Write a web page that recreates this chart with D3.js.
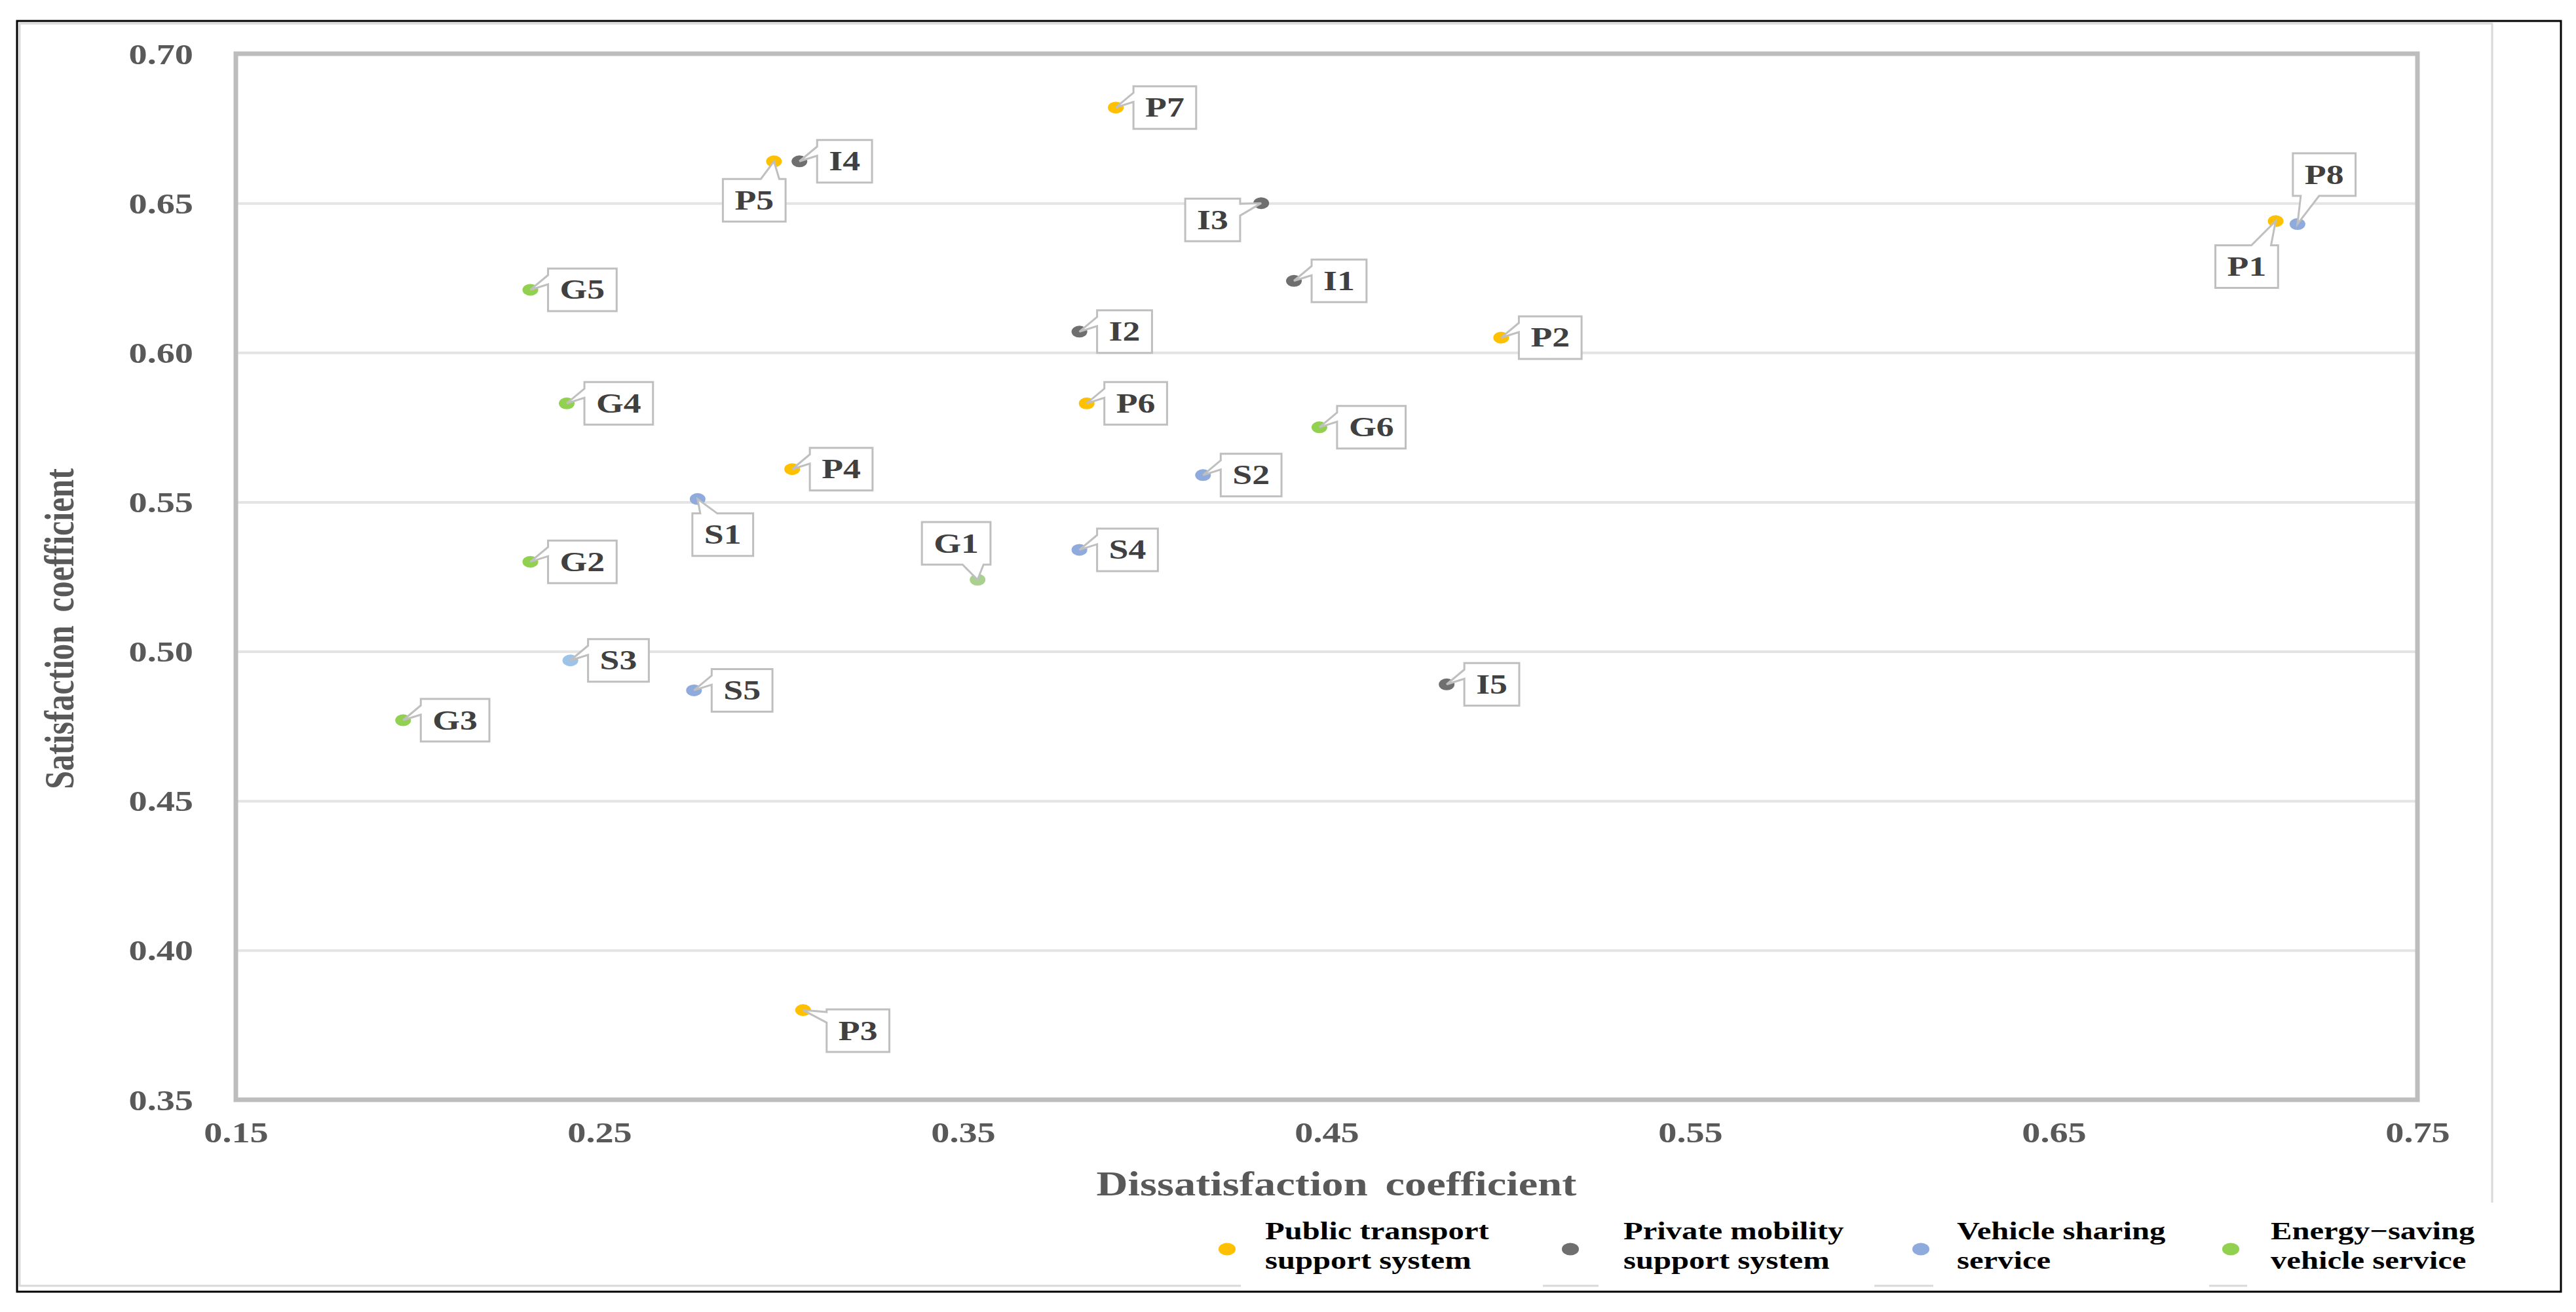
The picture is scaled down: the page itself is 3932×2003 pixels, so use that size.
<!DOCTYPE html>
<html>
<head>
<meta charset="utf-8">
<script src="https://cdn.jsdelivr.net/npm/d3@7"></script>
<style>
  body { margin: 0; background: #fff; }
  text { font-family: "Liberation Serif", "Times New Roman", serif; font-weight: bold; }
</style>
</head>
<body>
<div id="chart"></div>
<script>
// data
var categories = ["Public transport support system", "Private mobility support system",
                  "Vehicle sharing service", "Energy\u2212saving vehicle service"];
var legendLines = [["Public transport", "support system"], ["Private mobility", "support system"],
                   ["Vehicle sharing", "service"], ["Energy\u2212saving", "vehicle service"]];

var pointLabels = ["P1", "P2", "P3", "P4", "P5", "P6", "P7", "P8",
                   "I1", "I2", "I3", "I4", "I5",
                   "S1", "S2", "S3", "S4", "S5",
                   "G1", "G2", "G3", "G4", "G5", "G6"];
var dissatisfaction = [0.711, 0.498, 0.306, 0.303, 0.298, 0.384, 0.392, 0.717,
                       0.441, 0.382, 0.432, 0.305, 0.483,
                       0.277, 0.416, 0.242, 0.382, 0.276,
                       0.354, 0.231, 0.196, 0.241, 0.231, 0.448];
var satisfaction = [0.644, 0.605, 0.380, 0.561, 0.664, 0.583, 0.682, 0.643,
                    0.624, 0.607, 0.650, 0.664, 0.489,
                    0.551, 0.559, 0.497, 0.534, 0.487,
                    0.524, 0.530, 0.477, 0.583, 0.621, 0.575];
var pointGroup = [0, 0, 0, 0, 0, 0, 0, 2,
                  1, 1, 1, 1, 1,
                  2, 2, 2, 2, 2,
                  3, 3, 3, 3, 3, 3];

var xTicks = [0.15, 0.25, 0.35, 0.45, 0.55, 0.65, 0.75];
var yTicks = [0.35, 0.40, 0.45, 0.50, 0.55, 0.60, 0.65, 0.70];

// styles
var color = d3.scaleOrdinal().domain(d3.range(4))
    .range(["#ffc000", "#6f6f6f", "#8faadc", "#92d050"]);
var colorOverride = { S3: "#9dc3e6", G1: "#a9d18e" };
var sx = 1.28; // the source figure is stretched sideways

// where the callouts sit (box offset from point, edge that carries the wedge)
var labelLayout = {
  P5: { ox: -78, oy: 27, edge: "top", b1: 58, b2: 86 },
  P1: { ox: -92, oy: 37, edge: "top", b1: 55, b2: 85 },
  I3: { ox: -116, oy: -7, edge: "right", b1: 8, b2: 26 },
  P8: { ox: -7, oy: -108, edge: "bottom", b1: 12, b2: 40 },
  S1: { ox: -8, oy: 22, edge: "top", b1: 12, b2: 38 },
  G1: { ox: -85, oy: -88, edge: "bottom", b1: 62, b2: 94 },
  P3: { ox: 36, oy: -1, edge: "left", b1: 4, b2: 20 }
};

var W = 3932, H = 2003;
var margin = { top: 82, right: W - 3690, bottom: H - 1679, left: 360 },
    width = W - margin.left - margin.right,
    height = H - margin.top - margin.bottom;

var svg = d3.select("#chart").append("svg")
    .attr("width", W).attr("height", H);

// outer frame and chart area border
svg.append("rect").attr("x", 30).attr("y", 36).attr("width", 3804 - 30).attr("height", 1963 - 36)
    .attr("fill", "none").attr("stroke", "#d9d9d9").attr("stroke-width", 3);
svg.append("rect").attr("x", 26).attr("y", 32).attr("width", 3909 - 26).attr("height", 1972 - 32)
    .attr("fill", "none").attr("stroke", "#000").attr("stroke-width", 3);

var g = svg.append("g").attr("transform", "translate(" + margin.left + "," + margin.top + ")");

var x = d3.scaleLinear().domain([0.15, 0.75]).range([0, width]);
var y = d3.scaleLinear().domain([0.35, 0.70]).range([height, 0]);

// grid
g.append("g")
    .call(d3.axisLeft(y).tickValues(yTicks.slice(1, -1)).tickSize(-width).tickFormat(""))
    .call(function(a) { a.select(".domain").remove(); })
    .selectAll("line").attr("stroke", "#e4e4e4").attr("stroke-width", 4);

g.append("rect").attr("width", width).attr("height", height)
    .attr("fill", "none").attr("stroke", "#bdbdbd").attr("stroke-width", 7);

// axes
var xAxis = g.append("g").attr("transform", "translate(0," + height + ")")
    .call(d3.axisBottom(x).tickValues(xTicks).tickSize(0).tickFormat(d3.format(".2f")));
xAxis.select(".domain").remove();
xAxis.selectAll("text")
    .attr("y", null).attr("dy", null)
    .attr("transform", "translate(0,65) scale(" + sx + ",1)")
    .attr("fill", "#595959").style("font-size", "44px");

var yAxis = g.append("g")
    .call(d3.axisLeft(y).tickValues(yTicks).tickSize(0).tickFormat(d3.format(".2f")));
yAxis.select(".domain").remove();
yAxis.selectAll("text")
    .attr("x", null).attr("dy", null)
    .attr("transform", "translate(-65,15) scale(" + sx + ",1)")
    .attr("fill", "#595959").style("font-size", "44px");

// axis titles
svg.append("text")
    .attr("transform", "translate(2040,1825) scale(" + sx + ",1)")
    .attr("text-anchor", "middle").attr("fill", "#595959")
    .style("font-size", "52px").style("word-spacing", "8px")
    .text("Dissatisfaction coefficient");
svg.append("text")
    .attr("transform", "translate(112,960) scale(" + sx + ",1) rotate(-90)")
    .attr("text-anchor", "middle").attr("fill", "#595959")
    .style("font-size", "50px").style("word-spacing", "8px")
    .text("Satisfaction coefficient");

// points
var points = pointLabels.map(function(l, i) {
  return { label: l, dx: dissatisfaction[i], sy: satisfaction[i], grp: pointGroup[i] };
});

g.selectAll(".pt").data(points).enter().append("ellipse")
    .attr("class", "pt")
    .attr("cx", function(d) { return x(d.dx); })
    .attr("cy", function(d) { return y(d.sy); })
    .attr("rx", 12).attr("ry", 9)
    .attr("fill", function(d) { return colorOverride[d.label] || color(d.grp); });

// callout labels
var boxH = 65, pad = 18;
var lab = g.selectAll(".lab").data(points).enter().append("g").attr("class", "lab");
var path = lab.append("path");
var txt = lab.append("text")
    .attr("text-anchor", "middle").attr("fill", "#404040")
    .style("font-size", "42px")
    .text(function(d) { return d.label; });

lab.each(function(d) {
  var t = d3.select(this).select("text");
  var w = t.node().getComputedTextLength() * sx + 2 * pad;
  var px = x(d.dx), py = y(d.sy);
  var L = labelLayout[d.label] || { ox: 27, oy: -boxH / 2, edge: "left", b1: 10, b2: 24 };
  var bx = px + L.ox, by = py + L.oy, h = boxH;
  var p;
  if (L.edge === "left") {
    p = [[bx, by], [bx + w, by], [bx + w, by + h], [bx, by + h], [bx, by + L.b2], [px, py], [bx, by + L.b1]];
  } else if (L.edge === "right") {
    p = [[bx, by], [bx + w, by], [bx + w, by + L.b1], [px, py], [bx + w, by + L.b2], [bx + w, by + h], [bx, by + h]];
  } else if (L.edge === "top") {
    p = [[bx, by], [bx + L.b1, by], [px, py], [bx + L.b2, by], [bx + w, by], [bx + w, by + h], [bx, by + h]];
  } else {
    p = [[bx, by], [bx + w, by], [bx + w, by + h], [bx + L.b2, by + h], [px, py], [bx + L.b1, by + h], [bx, by + h]];
  }
  d3.select(this).select("path")
      .attr("d", "M" + p.join("L") + "Z")
      .attr("fill", "#fff").attr("stroke", "#bfbfbf").attr("stroke-width", 3)
      .attr("stroke-linejoin", "miter");
  t.attr("transform", "translate(" + (bx + w / 2) + "," + (by + h / 2 + 14) + ") scale(" + sx + ",1)");
});

// legend
var legendX = [1873, 2397, 2932, 3405],
    legendTextX = [1931, 2478, 2987, 3466],
    legendBg = [[1894, 2355], [2440, 2861], [2951, 3372], [3430, 3812]];

var leg = svg.selectAll(".leg").data(categories).enter().append("g").attr("class", "leg");
leg.append("rect")
    .attr("x", function(d, i) { return legendBg[i][0]; })
    .attr("width", function(d, i) { return legendBg[i][1] - legendBg[i][0]; })
    .attr("y", 1836).attr("height", 133).attr("fill", "#fff");
leg.append("ellipse")
    .attr("cx", function(d, i) { return legendX[i]; }).attr("cy", 1907)
    .attr("rx", 13).attr("ry", 9.5)
    .attr("fill", function(d, i) { return color(i); });
leg.each(function(d, i) {
  var el = d3.select(this);
  legendLines[i].forEach(function(line, k) {
    el.append("text")
        .attr("transform", "translate(" + legendTextX[i] + "," + (1892 + k * 45) + ") scale(" + sx + ",1)")
        .attr("fill", "#000").style("font-size", "38px")
        .text(line);
  });
});
</script>
</body>
</html>
